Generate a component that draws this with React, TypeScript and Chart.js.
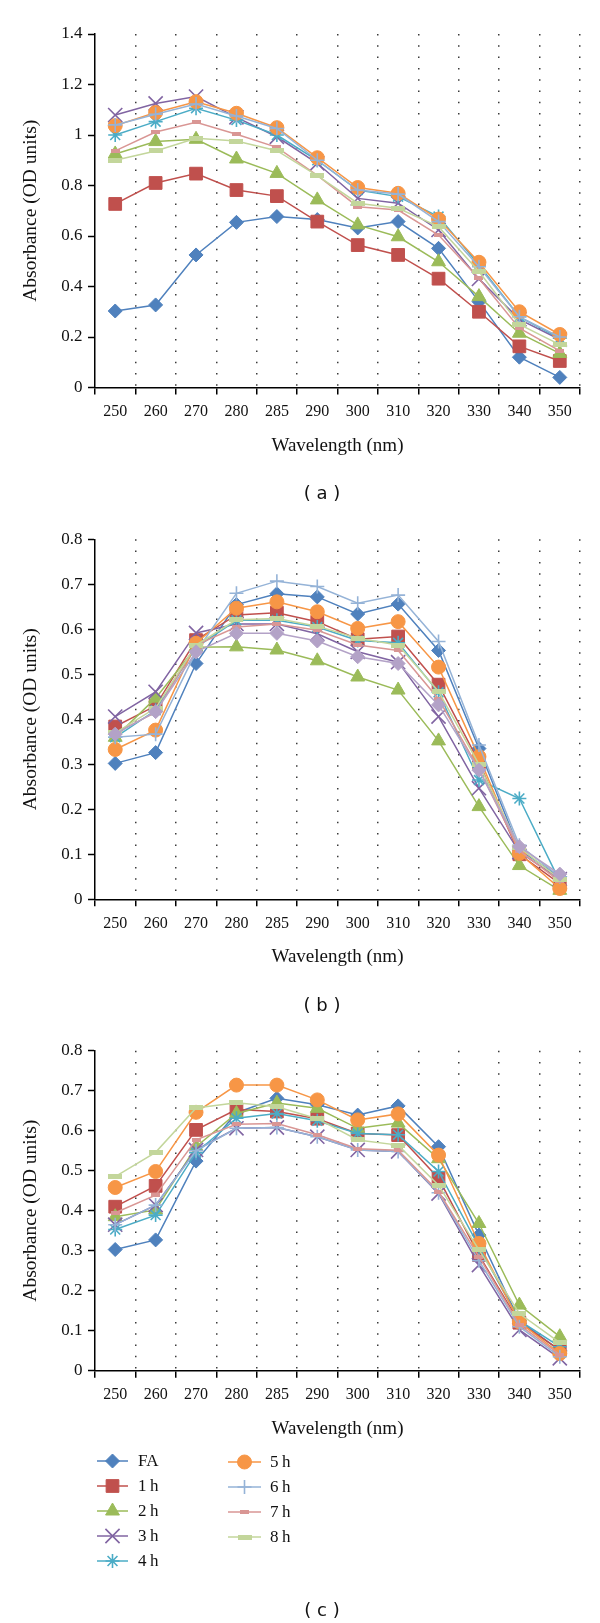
import React, { useEffect, useRef } from 'react';
import { Chart, registerables } from 'chart.js';
import { drawPoint } from 'chart.js/helpers';

Chart.register(...registerables);

// ---------- data ----------
const wavelengths = ['250', '260', '270', '280', '285', '290', '300', '310', '320', '330', '340', '350'];
const seriesNames = ['FA', '1\u2009h', '2\u2009h', '3\u2009h', '4\u2009h', '5\u2009h', '6\u2009h', '7\u2009h', '8\u2009h'];
const extraSeriesName = 'Series 10';

// panel (a)
const aFA = [0.303, 0.327, 0.525, 0.654, 0.677, 0.665, 0.632, 0.657, 0.551, 0.34, 0.12, 0.04];
const a1h = [0.727, 0.81, 0.847, 0.782, 0.758, 0.657, 0.564, 0.525, 0.431, 0.3, 0.163, 0.105];
const a2h = [0.925, 0.974, 0.983, 0.905, 0.848, 0.743, 0.644, 0.597, 0.498, 0.36, 0.215, 0.135];
const a3h = [1.079, 1.125, 1.152, 1.07, 0.993, 0.888, 0.749, 0.73, 0.624, 0.43, 0.27, 0.19];
const a4h = [1.0, 1.053, 1.106, 1.059, 1.0, 0.9, 0.782, 0.756, 0.677, 0.485, 0.28, 0.195];
const a5h = [1.037, 1.089, 1.132, 1.086, 1.029, 0.91, 0.792, 0.769, 0.667, 0.496, 0.3, 0.21];
const a6h = [1.04, 1.082, 1.123, 1.075, 1.026, 0.9, 0.782, 0.766, 0.657, 0.478, 0.28, 0.2];
const a7h = [0.937, 1.012, 1.05, 1.003, 0.951, 0.84, 0.716, 0.703, 0.604, 0.432, 0.235, 0.145];
const a8h = [0.9, 0.937, 0.987, 0.976, 0.938, 0.839, 0.73, 0.71, 0.637, 0.459, 0.25, 0.17];

// panel (b)
const bFA = [0.302, 0.326, 0.524, 0.655, 0.679, 0.672, 0.634, 0.656, 0.553, 0.335, 0.11, 0.05];
const b1h = [0.384, 0.43, 0.576, 0.632, 0.637, 0.617, 0.578, 0.584, 0.477, 0.305, 0.1, 0.035];
const b2h = [0.36, 0.447, 0.56, 0.561, 0.554, 0.53, 0.494, 0.465, 0.352, 0.206, 0.075, 0.02];
const b3h = [0.406, 0.461, 0.592, 0.612, 0.612, 0.59, 0.55, 0.527, 0.406, 0.247, 0.105, 0.045];
const b4h = [0.36, 0.42, 0.56, 0.62, 0.62, 0.605, 0.575, 0.57, 0.46, 0.265, 0.224, 0.04];
const b5h = [0.333, 0.376, 0.569, 0.647, 0.661, 0.639, 0.602, 0.617, 0.516, 0.317, 0.102, 0.024];
const b6h = [0.36, 0.367, 0.55, 0.68, 0.707, 0.695, 0.658, 0.676, 0.573, 0.343, 0.12, 0.05];
const b7h = [0.37, 0.415, 0.565, 0.605, 0.612, 0.598, 0.565, 0.553, 0.445, 0.29, 0.108, 0.04];
const b8h = [0.37, 0.425, 0.565, 0.621, 0.624, 0.607, 0.58, 0.565, 0.462, 0.3, 0.115, 0.045];
const bExtra = [0.367, 0.417, 0.55, 0.591, 0.591, 0.574, 0.539, 0.524, 0.432, 0.287, 0.117, 0.056];

// panel (c)
const cFA = [0.303, 0.327, 0.524, 0.645, 0.681, 0.665, 0.639, 0.662, 0.56, 0.339, 0.125, 0.05];
const c1h = [0.41, 0.462, 0.602, 0.653, 0.648, 0.63, 0.593, 0.589, 0.481, 0.289, 0.12, 0.052];
const c2h = [0.385, 0.402, 0.56, 0.643, 0.669, 0.656, 0.606, 0.619, 0.53, 0.368, 0.164, 0.085];
const c3h = [0.365, 0.414, 0.552, 0.606, 0.608, 0.585, 0.552, 0.548, 0.443, 0.264, 0.102, 0.031];
const c4h = [0.353, 0.389, 0.545, 0.631, 0.643, 0.625, 0.593, 0.59, 0.498, 0.31, 0.125, 0.06];
const c5h = [0.458, 0.498, 0.646, 0.714, 0.714, 0.677, 0.627, 0.642, 0.539, 0.318, 0.122, 0.043];
const c6h = [0.365, 0.414, 0.55, 0.606, 0.608, 0.585, 0.552, 0.548, 0.445, 0.275, 0.11, 0.035];
const c7h = [0.395, 0.439, 0.577, 0.616, 0.618, 0.59, 0.555, 0.551, 0.448, 0.285, 0.115, 0.04];
const c8h = [0.485, 0.546, 0.657, 0.67, 0.66, 0.63, 0.577, 0.564, 0.464, 0.302, 0.143, 0.07];

// ---------- styles ----------
function dashMarker(w: number, h: number, color: string) {
  const c = document.createElement('canvas');
  c.width = w;
  c.height = h;
  const x = c.getContext('2d')!;
  x.fillStyle = color;
  x.fillRect(0, 0, w, h);
  return c;
}

type Sty = { color: string; point: any; radius: number; stroke?: boolean };
function seriesStyles(): Sty[] {
  return [
    { color: '#4F81BD', point: 'rectRot', radius: 7 },
    { color: '#C0504D', point: 'rect', radius: 9 },
    { color: '#9BBB59', point: 'triangle', radius: 8 },
    { color: '#8064A2', point: 'crossRot', radius: 10, stroke: true },
    { color: '#4BACC6', point: 'star', radius: 7, stroke: true },
    { color: '#F79646', point: 'circle', radius: 7 },
    { color: '#95B3D7', point: 'cross', radius: 7, stroke: true },
    { color: '#D99694', point: dashMarker(9, 4, '#D99694'), radius: 5 },
    { color: '#C3D69B', point: dashMarker(14, 5, '#C3D69B'), radius: 5 },
    { color: '#B3A2C7', point: 'rectRot', radius: 7 },
  ];
}

const FONT = 'Liberation Serif';
const TXT = '#111';
const CANVAS_W = 600;
const AREA_LEFT = 95;
const AREA_RIGHT = 580;
const XAXIS_H = 69.5;

function buildDatasets(series: number[][], names: string[]) {
  const st = seriesStyles();
  return series.map((data, i) => {
    const s = st[i];
    return {
      label: names[i],
      data,
      borderColor: s.color,
      backgroundColor: s.color,
      borderWidth: 1.5,
      pointStyle: s.point,
      pointRadius: s.radius,
      pointHoverRadius: s.radius,
      pointBorderWidth: s.stroke ? 1.6 : 1,
      pointBackgroundColor: s.color,
      pointBorderColor: s.color,
      tension: 0,
      order: -i,
      clip: false as any,
    };
  });
}

type PanelProps = {
  canvasTop: number;
  canvasH: number;
  areaTop: number;
  areaBottom: number;
  yMax: number;
  yStep: number;
  series: number[][];
  names: string[];
  legend?: boolean;
};

const LEG_COL1 = { x1: 97, x2: 128, px: 112.5, tx: 138 };
const LEG_COL2 = { x1: 228, x2: 261, px: 244.5, tx: 270 };
const LEG_ROWS = [1461, 1486, 1511, 1536, 1561];

function Panel(p: PanelProps) {
  const ref = useRef<HTMLCanvasElement | null>(null);
  useEffect(() => {
    const canvas = ref.current!;
    const padTop = p.areaTop - p.canvasTop;
    const padBottom = p.canvasH - (p.areaBottom - p.canvasTop) - XAXIS_H;
    const plugins: any[] = [];
    if (p.legend) {
      plugins.push({
        id: 'colLegend',
        afterDraw(chart: any) {
          const ctx = chart.ctx as CanvasRenderingContext2D;
          const st = seriesStyles();
          chart.data.datasets.forEach((ds: any, i: number) => {
            const col = i < 5 ? LEG_COL1 : LEG_COL2;
            const row = i < 5 ? i : i - 5;
            const y = LEG_ROWS[row] + (i < 5 ? 0 : 1) - p.canvasTop;
            const s = st[i];
            ctx.save();
            ctx.strokeStyle = s.color;
            ctx.lineWidth = 1.5;
            ctx.beginPath();
            ctx.moveTo(col.x1, y);
            ctx.lineTo(col.x2, y);
            ctx.stroke();
            ctx.fillStyle = s.color;
            ctx.strokeStyle = s.color;
            ctx.lineWidth = s.stroke ? 1.6 : 1;
            drawPoint(ctx, { pointStyle: s.point, rotation: 0, radius: s.radius, borderWidth: s.stroke ? 1.6 : 1 } as any, col.px, y);
            ctx.fillStyle = TXT;
            ctx.font = `17px "${FONT}"`;
            ctx.textBaseline = 'middle';
            ctx.textAlign = 'left';
            ctx.fillText(ds.label, col.tx, y + 1);
            ctx.restore();
          });
        },
      });
    }
    const chart = new Chart(canvas, {
      type: 'line',
      data: { labels: wavelengths, datasets: buildDatasets(p.series, p.names) as any },
      options: {
        responsive: false,
        animation: false,
        events: [],
        layout: { padding: { top: padTop, right: CANVAS_W - AREA_RIGHT, bottom: padBottom, left: 0 } },
        plugins: { legend: { display: false }, tooltip: { enabled: false } },
        scales: {
          x: {
            type: 'category',
            offset: true,
            grid: {
              offset: true,
              display: true,
              drawOnChartArea: true,
              drawTicks: true,
              color: (c: any) => (c.index === 0 ? 'rgba(0,0,0,0)' : '#3a3a3a'),
              lineWidth: 1.5,
              tickLength: 7,
              tickColor: '#000',
              tickWidth: 1.5,
            },
            border: { display: true, color: '#000', width: 1.5, dash: [1.5, 9.8] },
            ticks: {
              autoSkip: false,
              maxRotation: 0,
              minRotation: 0,
              padding: 7.5,
              color: TXT,
              font: { family: FONT, size: 16 },
            },
            title: {
              display: true,
              text: 'Wavelength (nm)',
              color: TXT,
              font: { family: FONT, size: 19 },
              padding: { top: 0, bottom: 0 },
            },
            afterFit: (s: any) => {
              s.height = XAXIS_H;
            },
          },
          y: {
            type: 'linear',
            min: 0,
            max: p.yMax,
            ticks: {
              stepSize: p.yStep,
              padding: 5.6,
              color: TXT,
              font: { family: FONT, size: 17 },
              callback: (v: any) => String(parseFloat(Number(v).toFixed(1))),
            },
            grid: {
              drawOnChartArea: false,
              drawTicks: true,
              tickLength: 7,
              tickColor: '#000',
              tickWidth: 1.5,
              color: '#000',
            },
            border: { display: true, color: '#000', width: 1.5 },
            title: {
              display: true,
              text: 'Absorbance (OD units)',
              color: TXT,
              font: { family: FONT, size: 19.5 },
              padding: { top: 19.3, bottom: 0 },
            },
            afterFit: (s: any) => {
              s.width = AREA_LEFT;
            },
          },
        },
      } as any,
      plugins,
    });
    return () => chart.destroy();
  }, []);
  return (
    <canvas
      ref={ref}
      width={CANVAS_W}
      height={p.canvasH}
      style={{ position: 'absolute', left: 0, top: p.canvasTop, width: CANVAS_W, height: p.canvasH }}
    />
  );
}

const captionStyle = (y: number): React.CSSProperties => ({
  position: 'absolute',
  left: 322,
  top: y,
  transform: 'translate(-50%, -50%)',
  fontFamily: '"DejaVu Sans", sans-serif',
  fontSize: 18,
  color: '#111',
  whiteSpace: 'pre',
  lineHeight: 1,
});

export default function App() {
  const namesB = [...seriesNames, extraSeriesName];
  return (
    <div style={{ position: 'absolute', left: 0, top: 0, width: 600, height: 1623, background: '#fff', overflow: 'hidden' }}>
      <Panel
        canvasTop={0}
        canvasH={457}
        areaTop={34}
        areaBottom={387.5}
        yMax={1.4}
        yStep={0.2}
        series={[aFA, a1h, a2h, a3h, a4h, a5h, a6h, a7h, a8h]}
        names={seriesNames}
      />
      <Panel
        canvasTop={480}
        canvasH={489}
        areaTop={539.3}
        areaBottom={899.3}
        yMax={0.8}
        yStep={0.1}
        series={[bFA, b1h, b2h, b3h, b4h, b5h, b6h, b7h, b8h, bExtra]}
        names={namesB}
      />
      <Panel
        canvasTop={1000}
        canvasH={623}
        areaTop={1050.7}
        areaBottom={1370.7}
        yMax={0.8}
        yStep={0.1}
        series={[cFA, c1h, c2h, c3h, c4h, c5h, c6h, c7h, c8h]}
        names={seriesNames}
        legend
      />
      <div style={captionStyle(493)}>( a )</div>
      <div style={captionStyle(1005)}>( b )</div>
      <div style={captionStyle(1610)}>( c )</div>
    </div>
  );
}
